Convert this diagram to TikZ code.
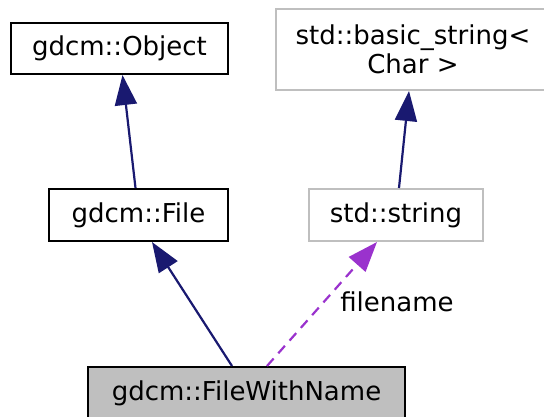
\documentclass[tikz,border=0pt]{standalone}
\usepackage{fontspec}
\setmainfont{DejaVu Sans}
\usetikzlibrary{arrows.meta,calc}
\definecolor{edgeblue}{HTML}{191970}
\definecolor{edgepurple}{HTML}{9A32CD}
\definecolor{lightframe}{HTML}{BFBFBF}
\begin{document}
\begin{tikzpicture}[x=1pt,y=-1pt,
  every node/.style={font=\fontsize{26}{29}\selectfont, inner sep=0pt},
  cls/.style={draw=black, line width=2pt, minimum height=51pt},
  extcls/.style={draw=lightframe, line width=2pt},
  current/.style={draw=black, fill=lightframe, line width=2pt, minimum height=52pt},
  inherit/.style={draw=edgeblue, line width=2.2pt, -{Triangle[length=30pt,width=22pt]}},
  usage/.style={draw=edgepurple, line width=2.2pt, dash pattern=on 10pt off 7pt,
    -{Triangle[length=30pt,width=22pt]}},
  lbl/.style={font=\fontsize{26}{29}\selectfont}
]
\useasboundingbox (0,0) rectangle (544,417);
\node[cls, minimum width=217pt] (obj) at (119.5,48.5) {gdcm::Object};
\node[extcls, minimum width=274pt, minimum height=81pt, align=center] (bstr) at (413,49.5) {std::basic\_string<\\Char >};
\node[cls, minimum width=179pt, minimum height=52pt] (file) at (138.5,215) {gdcm::File};
\node[extcls, minimum width=174pt, minimum height=52pt] (str) at (396,215) {std::string};
\node[current, minimum width=317pt] (fwn) at (246.5,393) {gdcm::FileWithName};
\draw[inherit] ([xshift=-3pt]file.north) -- ([xshift=3pt]obj.south);
\draw[inherit] ([xshift=3pt]str.north) -- ([xshift=-4pt]bstr.south);
\draw[inherit] ([xshift=-14.5pt]fwn.north) -- ([xshift=13.5pt]file.south);
\draw[usage] ([xshift=20.5pt]fwn.north) -- ([xshift=-19pt]str.south);
\node[lbl] (fname) at (397,302) {filename};
\end{tikzpicture}
\end{document}
